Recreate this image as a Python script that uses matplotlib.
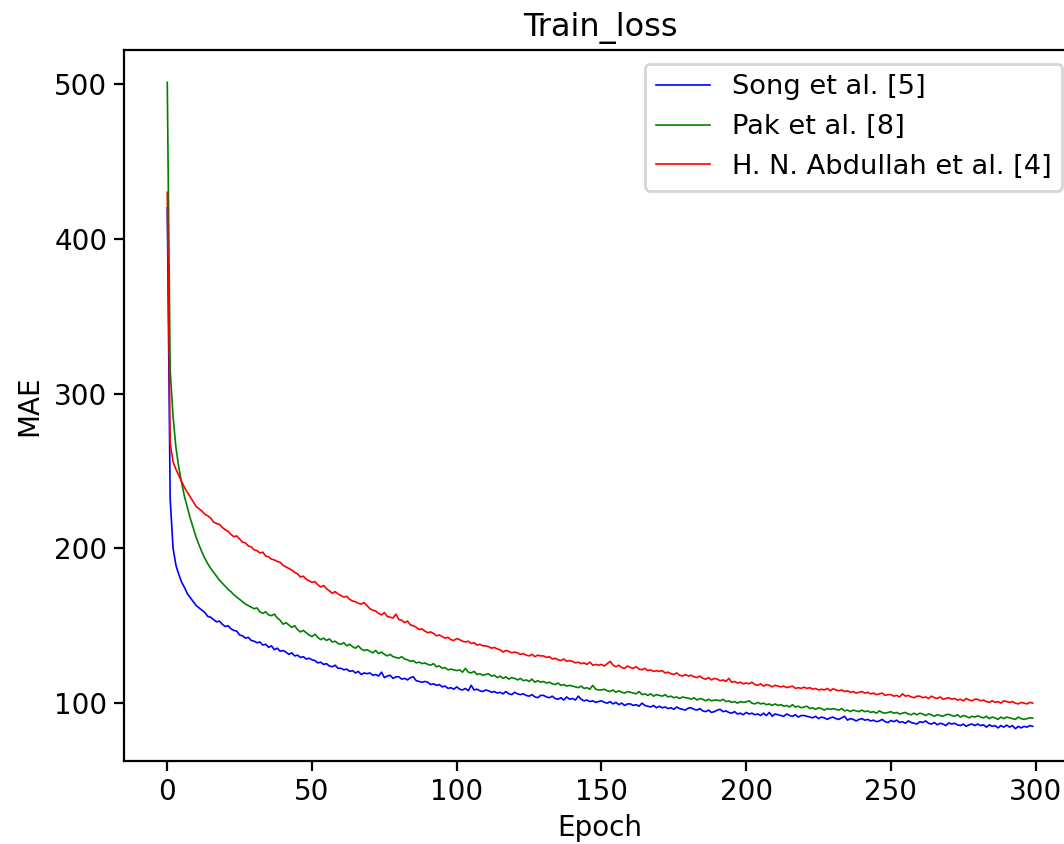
import numpy as np
import matplotlib
matplotlib.use('Agg')
import matplotlib.pyplot as plt

# Train loss (MAE) por época
song_mae = [
    420, 232, 200, 189, 183, 178, 174.5, 170.5, 168, 165.5,
    163, 161.5, 160, 158.5, 156, 155.5, 154, 152.5, 153, 151,
    149.5, 150, 148, 147, 146.5, 144, 143.5, 142, 142.5, 140.5,
    140, 139, 139.5, 137.5, 138, 136, 137, 134.5, 135.5, 133.5,
    134, 133, 131.5, 132.5, 130.5, 131, 129.5, 130, 128.5, 129,
    128, 127.5, 126, 126.5, 125, 125.5, 124, 123.5, 124.5, 122.5,
    122.5, 121.5, 122, 120.5, 121, 119.5, 120.5, 118.5, 119.5, 119,
    119.5, 118, 118.5, 117.5, 120, 116.5, 117.5, 118, 116, 117,
    117, 115.5, 116, 115, 116.5, 117, 114.5, 114, 113.5, 114,
    113.5, 112, 112.5, 111.5, 112, 110.5, 111, 109.5, 110, 109,
    110.5, 109, 108.5, 109.5, 108, 111.5, 108.5, 109, 108, 107.5,
    108.5, 108, 107, 107.5, 106.5, 107, 106, 107.5, 106, 105.5,
    107, 106, 105.5, 106, 105, 104.5, 105.5, 104, 103.5, 105,
    105, 104, 103.5, 104.5, 103, 102.5, 103.5, 102, 104, 102.5,
    103, 102, 104.5, 102.5, 101.5, 102, 101, 101.5, 100.5, 101,
    101.5, 100.5, 100, 101, 99.5, 100.5, 99, 100, 98.5, 99.5,
    99.5, 98.5, 99, 98, 100, 98.5, 98, 97.5, 98.5, 97,
    98, 97, 97.5, 96.5, 97, 96, 97.5, 96.5, 96, 95.5,
    96.8, 97, 96, 95.5, 96.5, 95, 94.5, 95.5, 94, 94.5,
    95.5, 96, 94.5, 95, 94, 93.5, 94.5, 93, 93.5, 92.5,
    94, 93, 93.5, 92.5, 93, 92, 93.5, 92, 94, 91.5,
    93, 92.5, 92, 91.5, 93, 92, 91.5, 92.5, 91, 92,
    92, 91.5, 91, 90.5, 91.5, 90, 91, 90.5, 89.5, 90.5,
    91, 90, 89.5, 90.5, 91.5, 89, 90, 89.5, 88.5, 89.5,
    90, 89, 89.5, 88.5, 89, 88, 88.5, 89.5, 88, 87.5,
    88.8, 88, 89, 87.5, 88, 87, 88.5, 87.5, 87, 86.5,
    88, 87.5, 88.5, 87, 86.5, 87.5, 86, 87, 86.5, 85.5,
    87.2, 86.5, 87, 86, 85.5, 86.5, 85, 86, 86.5, 85.5,
    86.5, 85.5, 86, 84.5, 86, 85, 85.5, 84, 85.5, 84.5,
    85.8, 84.5, 85.5, 83.5, 85, 84, 85, 84.5, 85.5, 85,
]

pak_mae = [
    501, 315, 285, 265, 252, 242, 233, 226, 219, 213,
    207, 202, 197.5, 193.5, 190, 187, 184.5, 182, 179.5, 177.5,
    175.5, 173.5, 172, 170, 168.5, 167, 165.5, 164, 163, 162,
    161, 161.5, 159, 158, 159, 157, 156.5, 157.5, 155, 153.5,
    151, 152, 150.5, 149, 150, 147.5, 146, 147, 145.5, 144,
    143, 144.5, 142.5, 141, 142, 140.5, 141.5, 139.5, 140, 138.5,
    138, 139, 137, 138, 136.5, 135.5, 137, 135, 134, 134.5,
    133.5, 132.5, 134, 132, 133, 131.5, 130.5, 131.5, 130, 129.5,
    129, 130, 128.5, 128, 127, 127.5, 126, 126.5, 125.5, 126,
    125, 124.5, 125.5, 123.5, 124, 122.5, 123, 121.5, 122, 121.5,
    121, 121.5, 120, 122.5, 120, 119.5, 120.5, 118.5, 119, 118,
    118.5, 119, 117.5, 118, 116.5, 117.5, 116, 117, 115.5, 116.5,
    116, 115, 116, 114.5, 115, 114, 115.5, 113.5, 114.5, 113.5,
    114, 113, 113.5, 112.5, 112, 113, 111.5, 112, 111, 111.5,
    111, 110.5, 110, 111, 109.5, 110, 109, 111.5, 109, 108.5,
    108.5, 109, 108, 107.5, 108.5, 107, 108, 107, 106.5, 107.5,
    107, 106.5, 106, 107.5, 105.5, 106, 105, 106, 104.5, 105.5,
    105, 104.5, 105.5, 104, 104.5, 103.5, 104, 103, 104, 103.5,
    103.3, 102.5, 103.5, 102, 103, 102.5, 101.5, 102.5, 101.5, 102,
    102, 101.5, 102.5, 101, 101.5, 100.5, 101, 100, 101, 100.5,
    100.8, 101.5, 100, 99.5, 100.5, 99.5, 100, 99, 99.5, 98.5,
    99.5, 98.5, 99, 98, 98.5, 97.5, 99, 97.5, 98, 97,
    97.5, 98, 96.5, 97, 96, 97, 96.5, 95.5, 96.5, 96,
    96.4, 96, 95.5, 96.5, 95, 95.5, 94.5, 95.5, 95, 94.5,
    95.5, 94.5, 95, 94, 94.5, 93.5, 95, 94, 93.5, 94,
    94.5, 93.5, 94, 93, 93.5, 94, 93, 92.5, 93.5, 92.5,
    93.5, 93, 92, 93, 92.5, 91.5, 92.5, 92, 91.5, 92.5,
    92.8, 92, 91.5, 92.5, 91, 92, 91.5, 90.5, 91.5, 91,
    91.8, 91, 90.5, 91.5, 90, 91, 90.5, 89.5, 91, 90,
    91, 90.5, 90, 89.5, 91, 90, 89.5, 90, 90.5, 90.3,
]

abdullah_mae = [
    430, 268, 256, 251, 247, 243, 239, 236, 233, 230,
    227, 225.5, 224, 222, 221, 219.5, 217, 216, 215.5, 213.5,
    212, 211, 209, 207.5, 208, 206, 204, 203.5, 201.5, 201,
    199, 198.5, 197, 197.5, 195, 194.5, 193, 192.5, 191.5, 191,
    189, 188, 187, 186, 184.5, 183.5, 181.5, 182, 180, 179,
    178, 178.5, 176.5, 175, 176, 174, 172.5, 171, 172, 170.5,
    169.5, 168.5, 169, 167, 166, 165.5, 164.5, 164, 165, 163,
    161, 160, 159.5, 158, 157, 158.5, 156, 155.5, 155, 157.5,
    154, 153.5, 152, 153, 150.5, 150, 149, 147.5, 148, 146.5,
    145.5, 146, 145, 143.5, 144, 143, 142, 142.5, 141, 140.5,
    141.7, 141, 140, 139.5, 140, 138.5, 139, 137.5, 138, 137,
    137, 136.5, 135.5, 136, 135, 134.5, 133, 134, 133.5, 132.5,
    133, 132.5, 131.5, 132, 131, 130.5, 131.5, 130, 131, 130.5,
    130.5, 129.5, 130, 128.5, 129, 128, 127.5, 128.5, 127, 127.5,
    127, 126, 126.5, 125.5, 126, 125, 126.5, 124.5, 125, 124.5,
    125, 124, 125.5, 127, 124.5, 123.5, 124.5, 123, 122.5, 124,
    123, 122.5, 123.5, 122, 121.5, 122.5, 121, 121.5, 120.5, 121,
    120.5, 121, 119.5, 120, 119, 118.5, 119.5, 118, 117.5, 118.5,
    117.5, 118, 117, 116.5, 117.5, 116, 115.5, 116.5, 115, 116,
    115.5, 114.5, 115, 114, 116, 113.5, 114, 113, 113.5, 112.5,
    113, 112.5, 113.5, 112, 111.5, 112.5, 111, 112, 111.5, 110.5,
    111.5, 111, 110.5, 111, 110, 110.5, 111, 109.5, 110, 109.5,
    110.3, 109.5, 110, 109, 109.5, 108.5, 109, 108.5, 109.5, 108,
    109.3, 108.5, 108, 108.5, 107.5, 108, 107, 107.5, 106.5, 107,
    107.5, 106.5, 107, 106, 106.5, 105.5, 106, 106.5, 105, 105.5,
    105.5, 104.5, 105, 104, 106, 104.5, 105, 104, 103.5, 104.5,
    104.5, 103.5, 104, 103, 104.5, 103.5, 103, 104, 102.5, 103,
    103.5, 102.5, 103, 102, 102.5, 101.5, 103, 102, 101.5, 102.5,
    102.5, 101.5, 102, 101, 100.5, 101.5, 100.5, 101, 100, 101.5,
    101, 100.5, 101, 100, 99.5, 100.5, 100, 99.5, 100.5, 100,
]

etiquetas = ['Song et al. [5]', 'Pak et al. [8]', 'H. N. Abdullah et al. [4]']
colores = ['blue', 'green', 'red']

epocas = np.arange(len(song_mae))

fig = plt.figure(figsize=(5.32, 4.22), dpi=200)
# el eje derecho queda fuera de la imagen, como en la original
ax = fig.add_axes([124 / 1064, 83 / 844, 952 / 1064, 711 / 844])

for serie, etiqueta, color in zip([song_mae, pak_mae, abdullah_mae], etiquetas, colores):
    ax.plot(epocas, serie, color=color, linewidth=0.6, label=etiqueta)

ax.set_title('Train_loss', fontsize=11.5, pad=5)
ax.set_xlabel('Epoch', fontsize=10, labelpad=3)
ax.set_ylabel('MAE', fontsize=10)
ax.set_xticks([0, 50, 100, 150, 200, 250, 300])
ax.tick_params(labelsize=10, pad=2.5)
ax.legend(loc='upper right', fontsize=9.8)

fig.savefig('out.png', dpi=200)
